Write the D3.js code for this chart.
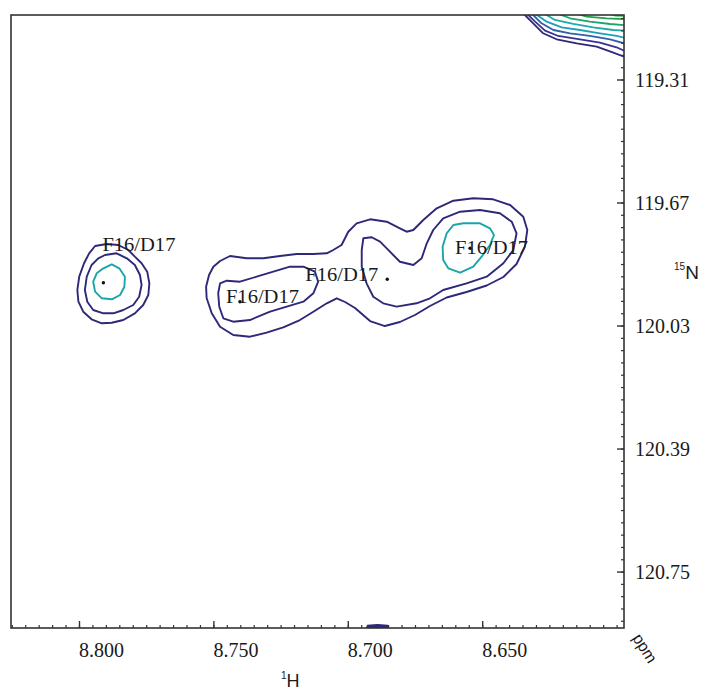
<!DOCTYPE html>
<html><head><meta charset="utf-8">
<script src="https://cdn.jsdelivr.net/npm/d3@7"></script>
<style>html,body{margin:0;padding:0;background:#fff;}svg{display:block;}</style>
</head><body>
<script>
// ---------- data (ppm) ----------
const xTicks = [8.800, 8.750, 8.700, 8.650];
const xTickLabels = ["8.800", "8.750", "8.700", "8.650"];
const yTicks = [119.31, 119.67, 120.03, 120.39, 120.75];
const yTickLabels = ["119.31", "119.67", "120.03", "120.39", "120.75"];

const peakLabels = ["F16/D17", "F16/D17", "F16/D17", "F16/D17"];
const peakH = [8.7911, 8.7403, 8.6855, 8.6547];
const peakN = [119.9032, 119.9588, 119.8933, 119.8025];

// contour lines: [1H, 15N] pairs
const leftOuter = [[8.7942,119.7958],[8.7899,119.7900],[8.7856,119.7929],[8.7818,119.8075],[8.7794,119.8271],[8.7769,119.8464],[8.7748,119.8710],[8.7740,119.9050],[8.7744,119.9392],[8.7763,119.9685],[8.7794,119.9928],[8.7837,120.0124],[8.7880,120.0203],[8.7917,120.0220],[8.7955,120.0103],[8.7986,119.9881],[8.8004,119.9588],[8.8008,119.9246],[8.8001,119.8856],[8.7983,119.8464],[8.7964,119.8172]];
const leftMiddle = [[8.7905,119.8221],[8.7862,119.8172],[8.7824,119.8318],[8.7794,119.8514],[8.7775,119.8807],[8.7769,119.9099],[8.7778,119.9442],[8.7800,119.9685],[8.7837,119.9831],[8.7874,119.9928],[8.7911,119.9928],[8.7949,119.9831],[8.7971,119.9588],[8.7980,119.9246],[8.7973,119.8856],[8.7955,119.8514],[8.7930,119.8318]];
const leftInner = [[8.7911,119.8611],[8.7880,119.8494],[8.7852,119.8611],[8.7831,119.8856],[8.7833,119.9149],[8.7849,119.9392],[8.7880,119.9518],[8.7917,119.9489],[8.7942,119.9295],[8.7949,119.9003],[8.7936,119.8757]];
const blobOuter = [[8.7529,119.9149],[8.7518,119.8807],[8.7502,119.8564],[8.7477,119.8397],[8.7440,119.8251],[8.7378,119.8318],[8.7316,119.8318],[8.7254,119.8251],[8.7192,119.8192],[8.7130,119.8192],[8.7080,119.8172],[8.7056,119.8075],[8.7025,119.7929],[8.7000,119.7540],[8.6969,119.7294],[8.6919,119.7177],[8.6857,119.7247],[8.6808,119.7440],[8.6783,119.7540],[8.6758,119.7490],[8.6721,119.7197],[8.6671,119.6855],[8.6609,119.6632],[8.6535,119.6562],[8.6461,119.6591],[8.6398,119.6758],[8.6349,119.7101],[8.6334,119.7490],[8.6343,119.7979],[8.6374,119.8485],[8.6423,119.8865],[8.6485,119.9114],[8.6560,119.9304],[8.6634,119.9465],[8.6696,119.9714],[8.6752,119.9977],[8.6808,120.0182],[8.6864,120.0300],[8.6919,120.0154],[8.6975,119.9772],[8.7012,119.9597],[8.7043,119.9489],[8.7080,119.9635],[8.7130,119.9881],[8.7180,120.0124],[8.7242,120.0337],[8.7304,120.0495],[8.7366,120.0612],[8.7428,120.0563],[8.7477,120.0320],[8.7508,119.9928],[8.7527,119.9480]];
const blobLeftInner = [[8.7477,119.9050],[8.7452,119.8974],[8.7403,119.9003],[8.7341,119.8856],[8.7279,119.8710],[8.7217,119.8564],[8.7167,119.8564],[8.7124,119.8710],[8.7112,119.9003],[8.7130,119.9342],[8.7167,119.9588],[8.7229,119.9734],[8.7291,119.9881],[8.7366,120.0124],[8.7428,120.0173],[8.7465,120.0074],[8.7480,119.9734],[8.7484,119.9342]];
const blobRightInner = [[8.6944,119.7733],[8.6913,119.7703],[8.6882,119.7832],[8.6845,119.8125],[8.6808,119.8418],[8.6758,119.8514],[8.6727,119.8318],[8.6708,119.7879],[8.6684,119.7490],[8.6647,119.7147],[8.6584,119.6954],[8.6510,119.6905],[8.6436,119.7001],[8.6392,119.7247],[8.6374,119.7586],[8.6386,119.8075],[8.6423,119.8464],[8.6485,119.8856],[8.6560,119.9050],[8.6647,119.9246],[8.6696,119.9489],[8.6746,119.9635],[8.6820,119.9734],[8.6870,119.9635],[8.6907,119.9442],[8.6932,119.9050],[8.6950,119.8564],[8.6950,119.8075]];
const blobRightCore = [[8.6634,119.7586],[8.6609,119.7343],[8.6572,119.7294],[8.6510,119.7294],[8.6473,119.7440],[8.6458,119.7636],[8.6473,119.7929],[8.6504,119.8271],[8.6535,119.8564],[8.6584,119.8739],[8.6628,119.8611],[8.6647,119.8368],[8.6649,119.7979]];
const bottomEdge = [[8.6935,120.9196],[8.6928,120.9060],[8.6891,120.9040],[8.6855,120.9060],[8.6848,120.9196]];
// strong peak off the top-right corner (open contour lines, clipped by the frame)
const corner1 = [[8.6354,119.1051],[8.6343,119.1198],[8.6312,119.1441],[8.6275,119.1733],[8.6225,119.1909],[8.6150,119.2026],[8.6076,119.2125],[8.6014,119.2301],[8.5974,119.2418],[8.5952,119.2485]];
const corner2 = [[8.6346,119.1051],[8.6330,119.1198],[8.6305,119.1394],[8.6268,119.1657],[8.6219,119.1812],[8.6138,119.1909],[8.6064,119.2008],[8.6002,119.2143],[8.5974,119.2243],[8.5952,119.2310]];
const corner3 = [[8.6328,119.1051],[8.6312,119.1198],[8.6281,119.1441],[8.6237,119.1637],[8.6175,119.1733],[8.6101,119.1812],[8.6026,119.1909],[8.5974,119.2026],[8.5952,119.2076]];
const corner4 = [[8.6317,119.1051],[8.6298,119.1198],[8.6262,119.1394],[8.6206,119.1558],[8.6138,119.1637],[8.6064,119.1733],[8.6002,119.1812],[8.5952,119.1900]];
const corner5 = [[8.6294,119.1051],[8.6231,119.1344],[8.6163,119.1461],[8.6089,119.1558],[8.6014,119.1637],[8.5952,119.1666]];
const corner6 = [[8.6257,119.1051],[8.6175,119.1294],[8.6101,119.1394],[8.6026,119.1461],[8.5952,119.1505]];
const corner7 = [[8.6194,119.1051],[8.6113,119.1248],[8.6039,119.1294],[8.5952,119.1330]];
const corner8 = [[8.6064,119.1051],[8.6008,119.1212],[8.5952,119.1236]];

// ---------- layout ----------
const W = 702, H = 692;
const L = 11, R = 624, T = 15, B = 628;
const navy = "#2e2878", cyan = "#1aa5a8";

const svg = d3.select("body").append("svg").attr("width", W).attr("height", H);
const x = d3.scaleLinear().domain([8.82548, 8.59743]).range([L, R]);
const y = d3.scaleLinear().domain([119.1198, 120.9137]).range([T, B]);

svg.append("clipPath").attr("id", "clip").append("rect")
  .attr("x", L).attr("y", T).attr("width", R - L).attr("height", B - T);
const plot = svg.append("g").attr("clip-path", "url(#clip)");

const closed = d3.line().x(d => x(d[0])).y(d => y(d[1])).curve(d3.curveLinearClosed);
const open = d3.line().x(d => x(d[0])).y(d => y(d[1]));

const closedSets = [
  [leftOuter, navy], [leftMiddle, navy], [leftInner, cyan],
  [blobOuter, navy], [blobLeftInner, navy], [blobRightInner, navy], [blobRightCore, cyan]
];
closedSets.forEach(([pts, col]) => {
  plot.append("path").attr("d", closed(pts)).attr("fill", "none")
    .attr("stroke", col).attr("stroke-width", 1.9).attr("stroke-linejoin", "round");
});
plot.append("path").attr("d", closed(bottomEdge)).attr("fill", navy).attr("stroke", navy).attr("stroke-width", 1.5);

const cornerSets = [
  [corner1, "#2e2878"], [corner2, "#3a3290"], [corner3, "#2f62a8"], [corner4, "#1f9fb8"],
  [corner5, "#1eaaa8"], [corner6, "#1ea46a"], [corner7, "#22a04e"], [corner8, "#3aae44"]
];
cornerSets.forEach(([pts, col]) => {
  plot.append("path").attr("d", open(pts)).attr("fill", "none")
    .attr("stroke", col).attr("stroke-width", 1.8).attr("stroke-linejoin", "round");
});

// peak markers + labels
const labelOffsets = [[-1, -32, "start"], [-14, 1, "start"], [-9, 2, "end"], [-15, 6, "start"]];
peakH.forEach((h, i) => {
  const px = x(h), py = y(peakN[i]);
  plot.append("circle").attr("cx", px).attr("cy", py).attr("r", 1.7).attr("fill", "#111");
  const [dx, dy, anchor] = labelOffsets[i];
  svg.append("text").attr("x", px + dx).attr("y", py + dy)
    .attr("text-anchor", anchor)
    .attr("font-family", "'Liberation Serif', 'Times New Roman', serif")
    .attr("font-size", 18).attr("fill", "#1a1a1a")
    .attr("textLength", 73).attr("lengthAdjust", "spacingAndGlyphs")
    .text(peakLabels[i]);
});

// frame
const axisCol = "#333";
svg.append("rect").attr("x", L).attr("y", T).attr("width", R - L).attr("height", B - T)
  .attr("fill", "none").attr("stroke", axisCol).attr("stroke-width", 1.6);

// bottom axis ticks (inside)
const xMinor = d3.range(8.825, 8.597, -0.005);
xMinor.forEach(v => {
  svg.append("line").attr("x1", x(v)).attr("x2", x(v)).attr("y1", B).attr("y2", B - 3)
    .attr("stroke", axisCol).attr("stroke-width", 1.2);
});
xTicks.forEach((v, i) => {
  svg.append("line").attr("x1", x(v)).attr("x2", x(v)).attr("y1", B).attr("y2", B - 7)
    .attr("stroke", axisCol).attr("stroke-width", 1.4);
  svg.append("text").attr("x", x(v) + 22).attr("y", B + 29).attr("text-anchor", "middle")
    .attr("font-family", "'Liberation Serif', 'Times New Roman', serif").attr("font-size", 20)
    .attr("fill", "#1a1a1a").text(xTickLabels[i]);
});
// right axis ticks (inside)
const yMinor = d3.range(119.13, 120.92, 0.036);
yMinor.forEach(v => {
  if (y(v) < T + 1 || y(v) > B - 1) return;
  svg.append("line").attr("x1", R).attr("x2", R - 3).attr("y1", y(v)).attr("y2", y(v))
    .attr("stroke", axisCol).attr("stroke-width", 1.2);
});
yTicks.forEach((v, i) => {
  svg.append("line").attr("x1", R).attr("x2", R - 7).attr("y1", y(v)).attr("y2", y(v))
    .attr("stroke", axisCol).attr("stroke-width", 1.4);
  svg.append("text").attr("x", R + 11).attr("y", y(v) + 7)
    .attr("font-family", "'Liberation Serif', 'Times New Roman', serif").attr("font-size", 20)
    .attr("fill", "#1a1a1a").text(yTickLabels[i]);
});

// axis titles
const hT = svg.append("text").attr("x", 281).attr("y", 687)
  .attr("font-family", "'Liberation Sans', Arial, sans-serif").attr("font-size", 18).attr("fill", "#1a1a1a");
hT.append("tspan").attr("font-size", 10).attr("dy", -8).text("1");
hT.append("tspan").attr("dy", 8).text("H");

const nT = svg.append("text").attr("x", 674).attr("y", 279)
  .attr("font-family", "'Liberation Sans', Arial, sans-serif").attr("font-size", 19).attr("fill", "#1a1a1a");
nT.append("tspan").attr("font-size", 10).attr("dy", -9).text("15");
nT.append("tspan").attr("dy", 9).text("N");

svg.append("text").attr("transform", "translate(632,638) rotate(58)")
  .attr("font-family", "'Liberation Sans', Arial, sans-serif").attr("font-size", 16)
  .attr("fill", "#1a1a1a").text("ppm");
</script>
</body></html>
